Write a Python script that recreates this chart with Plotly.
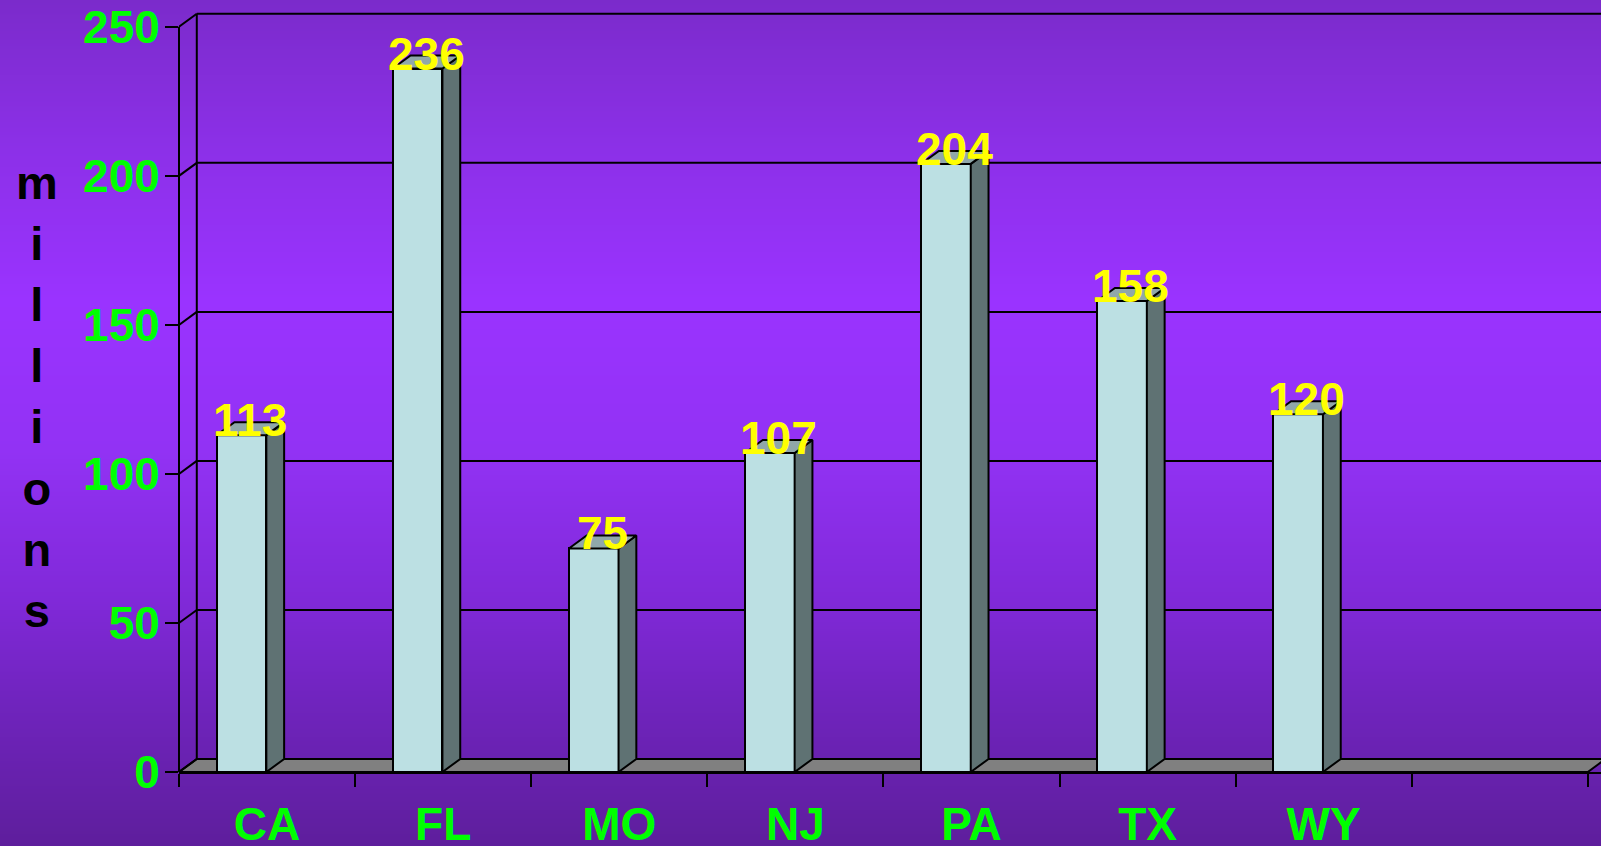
import zlib, struct, base64
import plotly.graph_objects as go

# ---------------- data ----------------
categories = ["CA", "FL", "MO", "NJ", "PA", "TX", "WY"]
values = [113, 236, 75, 107, 204, 158, 120]
n_slots = 8
y_ticks = [0, 50, 100, 150, 200, 250]
y_title = "millions"

# ---------------- geometry / style ----------------
W, H = 1601, 846
M_L, M_R, M_T, M_B = 179, 0, 11, 74
X_RANGE = [-0.5, 7.575]
Y_RANGE = [0, 255.3]
DX, DY = 0.101, 4.36            # 3-D depth offset in data units
BAR_OFF, BAR_W = -0.286, 0.282  # front face of bar relative to slot centre
LABEL_DX = -0.095

FRONT = "#BCE0E3"
SIDE = "#5F7273"
TOP = "#90A7AA"
FLOOR = "#808080"
FONT = "Liberation Sans, Arial, sans-serif"

# ---------------- gradient background ----------------
stops = [(0, (123, 43, 203)), (150, (140, 48, 232)), (300, (154, 51, 255)),
         (450, (146, 50, 244)), (600, (128, 41, 216)), (700, (112, 36, 190)),
         (846, (94, 30, 156))]


def col_at(y):
    for (y0, c0), (y1, c1) in zip(stops[:-1], stops[1:]):
        if y0 <= y <= y1:
            t = (y - y0) / (y1 - y0)
            return tuple(int(round(a + (b - a) * t)) for a, b in zip(c0, c1))
    return stops[-1][1]


def png(rows, width=2):
    raw = b"".join(b"\x00" + bytes(c) * width for c in rows)

    def chunk(t, d):
        return struct.pack(">I", len(d)) + t + d + struct.pack(">I", zlib.crc32(t + d) & 0xffffffff)
    ihdr = struct.pack(">IIBBBBB", width, len(rows), 8, 2, 0, 0, 0)
    return (b"\x89PNG\r\n\x1a\n" + chunk(b"IHDR", ihdr) +
            chunk(b"IDAT", zlib.compress(raw)) + chunk(b"IEND", b""))


grad = "data:image/png;base64," + base64.b64encode(png([col_at(y) for y in range(H)])).decode()
pw, ph = W - M_L - M_R, H - M_T - M_B

fig = go.Figure()

# front faces of the bars
xs = list(range(len(categories)))
fig.add_trace(go.Bar(
    x=xs, y=values, width=BAR_W, offset=BAR_OFF,
    marker=dict(color=FRONT, line=dict(color="black", width=2)),
    hoverinfo="skip", showlegend=False))

# side and top faces
sx, sy, tx, ty = [], [], [], []
for i, v in enumerate(values):
    xl = i + BAR_OFF
    xr = xl + BAR_W
    sx += [xr, xr + DX, xr + DX, xr, xr, None]
    sy += [0, DY, v + DY, v, 0, None]
    tx += [xl, xr, xr + DX, xl + DX, xl, None]
    ty += [v, v, v + DY, v + DY, v, None]
fig.add_trace(go.Scatter(x=sx, y=sy, mode="lines", fill="toself", fillcolor=SIDE,
                         line=dict(color="black", width=2), hoverinfo="skip", showlegend=False))
fig.add_trace(go.Scatter(x=tx, y=ty, mode="lines", fill="toself", fillcolor=TOP,
                         line=dict(color="black", width=2), hoverinfo="skip", showlegend=False))

# walls / floor
shapes = []
x_lo, x_hi = -0.5, n_slots - 0.5
shapes.append(dict(type="path", xref="x", yref="y", layer="below",
                   path=f"M{x_lo},0 L{x_hi},0 L{x_hi + DX},{DY} L{x_lo + DX},{DY} Z",
                   fillcolor=FLOOR, line=dict(color="black", width=2)))
for t in y_ticks[1:]:
    shapes.append(dict(type="line", xref="x", yref="y", layer="below",
                       x0=x_lo + DX, x1=x_hi + DX, y0=t + DY, y1=t + DY,
                       line=dict(color="black", width=2)))
for t in y_ticks:
    shapes.append(dict(type="line", xref="x", yref="y", layer="below",
                       x0=x_lo, x1=x_lo + DX, y0=t, y1=t + DY,
                       line=dict(color="black", width=2)))
shapes.append(dict(type="line", xref="x", yref="y", layer="below",
                   x0=x_lo + DX, x1=x_lo + DX, y0=DY, y1=y_ticks[-1] + DY,
                   line=dict(color="black", width=2)))
shapes.append(dict(type="line", xref="paper", yref="y", layer="above",
                   x0=0, x1=0, y0=0, y1=y_ticks[-1],
                   line=dict(color="black", width=2)))

annotations = []
for i, v in enumerate(values):
    annotations.append(dict(x=i + LABEL_DX, y=v, xref="x", yref="y", text=str(v),
                            showarrow=False, yanchor="bottom", yshift=-13,
                            font=dict(family=FONT, size=46, color="#FFFF00", weight="bold")))
annotations.append(dict(x=(37 - M_L) / pw, y=0.493, xref="paper", yref="paper",
                        text="<br>".join(y_title), showarrow=False,
                        xanchor="center", yanchor="middle",
                        font=dict(family=FONT, size=47, color="black", weight="bold")))

tickfont = dict(family=FONT, size=46, color="#00FF00", weight="bold")
fig.update_layout(
    width=W, height=H,
    margin=dict(l=M_L, r=M_R, t=M_T, b=M_B, pad=0),
    paper_bgcolor="#5E1E9C", plot_bgcolor="rgba(0,0,0,0)",
    images=[dict(source=grad, xref="paper", yref="paper", x=-M_L / pw, y=1 + M_T / ph,
                 sizex=W / pw, sizey=H / ph, xanchor="left", yanchor="top",
                 sizing="stretch", layer="below")],
    shapes=shapes, annotations=annotations,
    bargap=0, showlegend=False,
    xaxis=dict(range=X_RANGE, tickmode="array", tickvals=xs, ticktext=categories,
               ticks="", showgrid=False, zeroline=False, showline=True, automargin=False,
               linecolor="black", linewidth=2, tickfont=tickfont, ticklabelstandoff=11,
               minor=dict(tickmode="array", tickvals=[k - 0.5 for k in range(n_slots + 1)],
                          ticks="outside", ticklen=13, tickwidth=2, tickcolor="black",
                          showgrid=False)),
    yaxis=dict(range=Y_RANGE, tickmode="array", tickvals=y_ticks, ticks="outside",
               ticklen=13, tickwidth=2, tickcolor="black", showgrid=False, zeroline=False,
               showline=False, automargin=False, tickfont=tickfont, ticklabelstandoff=-4),
)

fig.write_html("out.html", config={"displayModeBar": False},
               post_script="document.body.style.margin='0';document.body.style.overflow='hidden';")
